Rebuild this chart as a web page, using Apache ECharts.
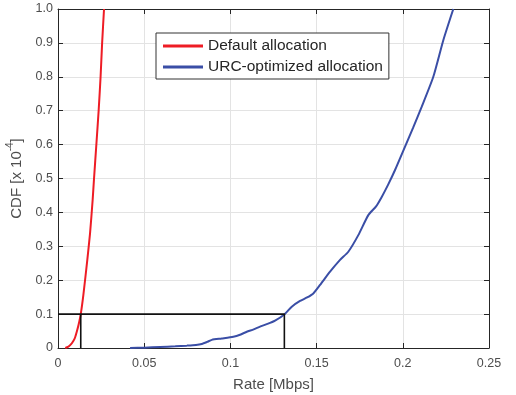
<!DOCTYPE html>
<html><head><meta charset="utf-8">
<script src="https://cdn.jsdelivr.net/npm/echarts@6/dist/echarts.min.js"></script>
<style>html,body{margin:0;padding:0;background:#fff}#c{width:516px;height:395px}</style>
</head><body><div id="c"></div>
<script>
const seriesNames = ['Default allocation', 'URC-optimized allocation'];
const defaultCdf = [[0.0042,0],[0.0058,0.003],[0.0072,0.009],[0.0088,0.02],[0.0099,0.031],[0.011,0.05],[0.012,0.07],[0.0132,0.1],[0.0147,0.156],[0.017,0.26],[0.0186,0.339],[0.0201,0.437],[0.0209,0.5],[0.0223,0.604],[0.0236,0.702],[0.0247,0.8],[0.0256,0.9],[0.0267,1.0]];
const urcCdf = [[0.0418,0],[0.05,0.001],[0.0592,0.003],[0.068,0.005],[0.0747,0.007],[0.08,0.009],[0.0834,0.012],[0.0865,0.018],[0.0892,0.024],[0.095,0.028],[0.1017,0.033],[0.106,0.04],[0.1095,0.048],[0.1135,0.055],[0.1172,0.063],[0.1215,0.071],[0.1259,0.081],[0.1313,0.099],[0.1356,0.122],[0.1404,0.139],[0.1445,0.149],[0.1481,0.161],[0.152,0.186],[0.1578,0.225],[0.1636,0.26],[0.1684,0.284],[0.1742,0.333],[0.18,0.392],[0.1845,0.418],[0.1877,0.445],[0.1915,0.482],[0.1955,0.525],[0.2013,0.594],[0.206,0.65],[0.211,0.712],[0.2177,0.8],[0.2235,0.908],[0.2293,1.0]];
const guideLevel = 0.1;
const defaultAtGuide = 0.0132;
const urcAtGuide = 0.1313;
const xTicks = [0, 0.05, 0.1, 0.15, 0.2, 0.25];
const yTicks = [0,0.1,0.2,0.3,0.4,0.5,0.6,0.7,0.8,0.9,1.0];

const axisCol = '#262626', labCol = '#4d4d4d', gridCol = '#e3e3e3';
const FF = 'Liberation Sans';
const fmtY = v => (v === 0 ? '0' : v.toFixed(1));
const fmtX = v => String(+v.toFixed(2));
const baseX = {
  type: 'value', min: xTicks[0], max: xTicks[xTicks.length-1], interval: 0.05,
  axisLine: {show: true, onZero: false, lineStyle: {color: axisCol, width: 1}},
  axisTick: {show: true, inside: true, length: 5, lineStyle: {color: axisCol}},
};
const baseY = {
  type: 'value', min: yTicks[0], max: yTicks[yTicks.length-1], interval: 0.1,
  axisLine: {show: true, onZero: false, lineStyle: {color: axisCol, width: 1}},
  axisTick: {show: true, inside: true, length: 5, lineStyle: {color: axisCol}},
};
const chart = echarts.init(document.getElementById('c'), null, {renderer: 'canvas'});
chart.setOption({
  animation: false,
  backgroundColor: '#fff',
  grid: {left: 58, top: 9, right: 27, bottom: 47, containLabel: false, outerBoundsMode: 'none'},
  legend: {
    data: seriesNames, orient: 'vertical', left: 156, top: 33,
    backgroundColor: '#fff', borderColor: '#333', borderWidth: 1,
    padding: [5, 6, 4, 7], itemGap: 5, itemWidth: 40, itemHeight: 3, icon: 'rect',
    textStyle: {fontFamily: FF, fontSize: 15.5, color: '#262626'}
  },
  xAxis: [
    Object.assign({}, baseX, {
      position: 'bottom',
      axisLabel: {color: labCol, fontFamily: FF, fontSize: 12.5, margin: 9, formatter: fmtX},
      splitLine: {show: true, lineStyle: {color: gridCol, width: 1}},
      name: 'Rate [Mbps]', nameLocation: 'middle', nameGap: 29,
      nameTextStyle: {color: labCol, fontFamily: FF, fontSize: 15}
    }),
    Object.assign({}, baseX, {position: 'top', axisLabel: {show: false}, splitLine: {show: false}})
  ],
  yAxis: [
    Object.assign({}, baseY, {
      position: 'left',
      axisLabel: {color: labCol, fontFamily: FF, fontSize: 12.5, margin: 5, formatter: fmtY},
      splitLine: {show: true, lineStyle: {color: gridCol, width: 1}},
      name: 'CDF [x 10{sup|-4}]', nameLocation: 'middle', nameGap: 26, nameRotate: 90,
      nameTextStyle: {color: labCol, fontFamily: FF, fontSize: 15,
        rich: {sup: {fontSize: 10, color: labCol, fontFamily: FF, verticalAlign: 'top', lineHeight: 24}}}
    }),
    Object.assign({}, baseY, {position: 'right', axisLabel: {show: false}, splitLine: {show: false}})
  ],
  series: [
    {name: seriesNames[0], type: 'line', data: defaultCdf, showSymbol: false, symbol: 'none', smooth: 0.2,
     lineStyle: {color: '#ee1c25', width: 2}, itemStyle: {color: '#ee1c25'}, z: 3},
    {name: seriesNames[1], type: 'line', data: urcCdf, showSymbol: false, symbol: 'none', smooth: 0.2,
     lineStyle: {color: '#3a4ea6', width: 2}, itemStyle: {color: '#3a4ea6'}, z: 3},
    {name: 'guide1', type: 'line', data: [[0, guideLevel], [urcAtGuide, guideLevel], [urcAtGuide, 0]],
     showSymbol: false, symbol: 'none', lineStyle: {color: '#111', width: 1.6}, z: 4, silent: true},
    {name: 'guide2', type: 'line', data: [[defaultAtGuide, guideLevel], [defaultAtGuide, 0]],
     showSymbol: false, symbol: 'none', lineStyle: {color: '#111', width: 1.6}, z: 4, silent: true}
  ]
});
</script></body></html>
